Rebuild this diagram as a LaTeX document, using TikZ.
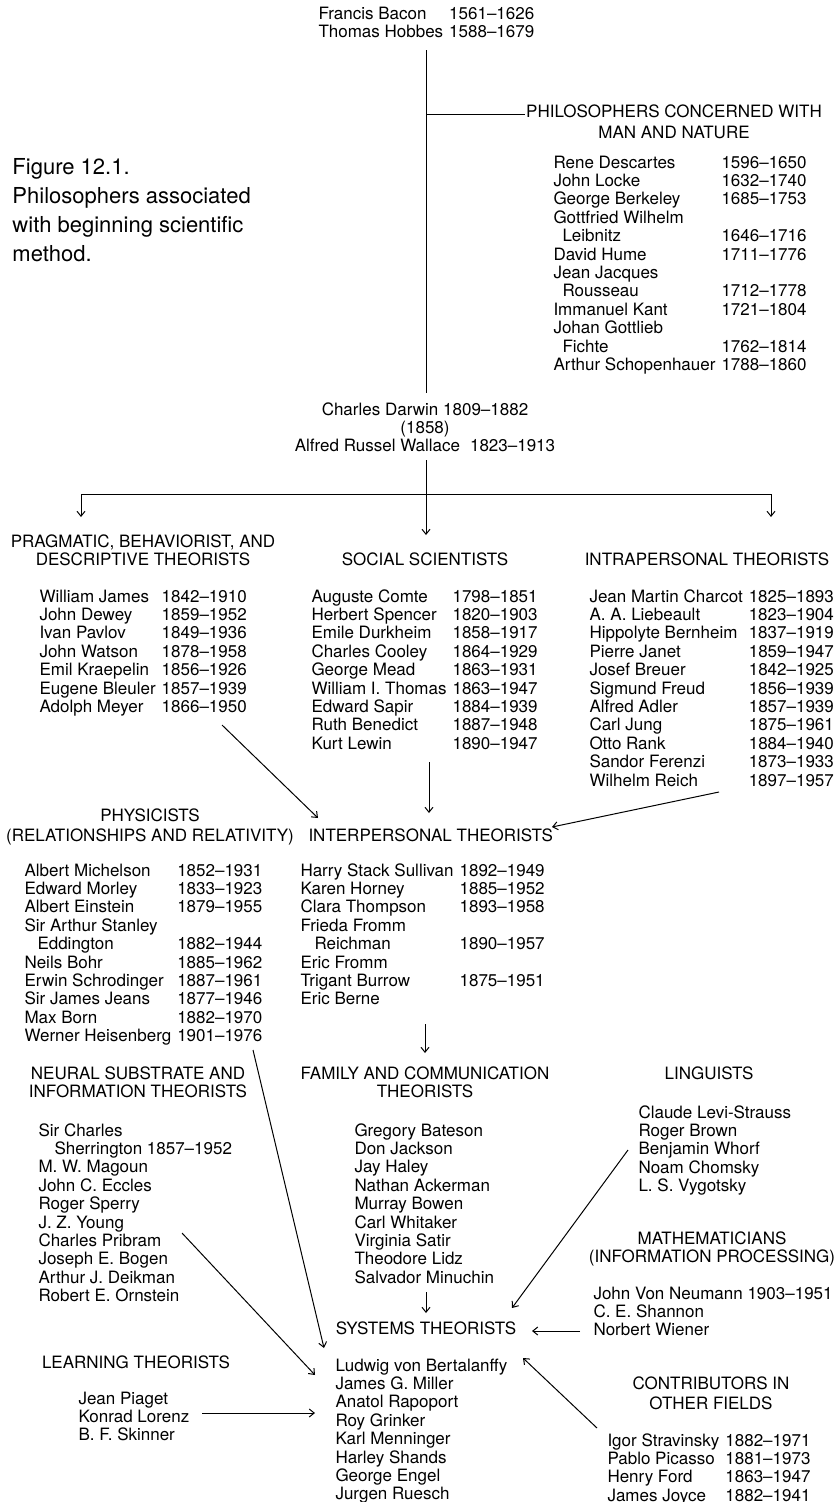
\documentclass[tikz,border=0pt]{standalone}
\usepackage{fontspec}
\setmainfont{TeX Gyre Heros}
\usetikzlibrary{arrows.meta}

\newcommand\figfont{\fontsize{17}{18.4}\selectfont}
\newcommand\capfont{\fontsize{22}{29}\selectfont}
\newcommand\headtext[1]{\begin{tabular}[t]{@{}c@{}}#1\end{tabular}}
\newcommand\namelist[1]{\begin{tabular}[t]{@{}l@{}}#1\end{tabular}}
\newcommand\datelist[1]{\begin{tabular}[t]{@{}l@{\hspace{6pt}}l@{}}#1\end{tabular}}

\begin{document}
\begin{tikzpicture}[x=1pt, y=-1pt, line width=1pt,
  every node/.style={inner sep=0pt, font=\figfont},
  head/.style={anchor=base},
  names/.style={anchor=base west},
  link/.style={-{Straight Barb[length=5pt,width=8pt]}}]
  \useasboundingbox (0,0) rectangle (840,1502);

  % top of the tree
  \node[names] (founders) at (318,19) {\datelist{Francis Bacon & 1561--1626\\ Thomas Hobbes & 1588--1679}};
  \node[names, font=\capfont] (caption) at (12,174) {\namelist{Figure 12.1.\\ Philosophers associated\\ with beginning scientific\\ method.}};
  \node[head] (philhead) at (674,117) {\headtext{PHILOSOPHERS CONCERNED WITH\\[3pt] MAN AND NATURE}};
  \node[names] (phil) at (553,168) {\datelist{Rene Descartes & 1596--1650\\ John Locke & 1632--1740\\
    George Berkeley & 1685--1753\\ Gottfried Wilhelm & \\ \hspace*{9pt}Leibnitz & 1646--1716\\
    David Hume & 1711--1776\\ Jean Jacques & \\ \hspace*{9pt}Rousseau & 1712--1778\\
    Immanuel Kant & 1721--1804\\ Johan Gottlieb & \\ \hspace*{9pt}Fichte & 1762--1814\\
    Arthur Schopenhauer & 1788--1860}};
  \node[head] (darwin) at (425,415) {\headtext{Charles Darwin 1809--1882\\ (1858)\\ Alfred Russel Wallace\hspace{10pt}1823--1913}};

  \coordinate (trunkA) at (426,50);
  \coordinate (trunkB) at (426,393);
  \coordinate (branch) at (426,114);
  \coordinate (branchE) at (525,114);
  \draw (trunkA) -- (trunkB);
  \draw (branch) -- (branchE);

  % three way split under Darwin
  \coordinate (splitA) at (426,460);
  \coordinate (splitB) at (426,535);
  \coordinate (barL) at (81,494);
  \coordinate (barR) at (771,494);
  \coordinate (tipL) at (81,517);
  \coordinate (tipR) at (771,517);
  \draw[link] (splitA) -- (splitB);
  \draw (barL) -- (barR);
  \draw[link] (barL) -- (tipL);
  \draw[link] (barR) -- (tipR);

  \node[head] (praghead) at (143,547) {\headtext{PRAGMATIC, BEHAVIORIST, AND\\ DESCRIPTIVE THEORISTS}};
  \node[head] (sochead) at (425,565) {SOCIAL SCIENTISTS};
  \node[head] (intrahead) at (707,565) {INTRAPERSONAL THEORISTS};
  \node[names] (prag) at (39,602) {\datelist{William James & 1842--1910\\ John Dewey & 1859--1952\\
    Ivan Pavlov & 1849--1936\\ John Watson & 1878--1958\\ Emil Kraepelin & 1856--1926\\
    Eugene Bleuler & 1857--1939\\ Adolph Meyer & 1866--1950}};
  \node[names] (social) at (311,602) {\datelist{Auguste Comte & 1798--1851\\ Herbert Spencer & 1820--1903\\
    Emile Durkheim & 1858--1917\\ Charles Cooley & 1864--1929\\ George Mead & 1863--1931\\
    William I. Thomas & 1863--1947\\ Edward Sapir & 1884--1939\\ Ruth Benedict & 1887--1948\\
    Kurt Lewin & 1890--1947}};
  \node[names] (intra) at (589,602) {\datelist{Jean Martin Charcot & 1825--1893\\ A. A. Liebeault & 1823--1904\\
    Hippolyte Bernheim & 1837--1919\\ Pierre Janet & 1859--1947\\ Josef Breuer & 1842--1925\\
    Sigmund Freud & 1856--1939\\ Alfred Adler & 1857--1939\\ Carl Jung & 1875--1961\\
    Otto Rank & 1884--1940\\ Sandor Ferenzi & 1873--1933\\ Wilhelm Reich & 1897--1957}};

  % into the interpersonal theorists
  \node[head] (physhead) at (150,821) {\headtext{PHYSICISTS\\[1.6pt] (RELATIONSHIPS AND RELATIVITY)}};
  \node[names] (interhead) at (308,841) {INTERPERSONAL THEORISTS};
  \coordinate (pragA) at (222,725);
  \coordinate (pragB) at (318,818);
  \coordinate (socA) at (429,762);
  \coordinate (socB) at (429,813);
  \coordinate (intraA) at (719,792);
  \coordinate (intraB) at (552,827);
  \draw[link] (pragA) -- (pragB);
  \draw[link] (socA) -- (socB);
  \draw[link] (intraA) -- (intraB);

  \node[names] (phys) at (24,876) {\datelist{Albert Michelson & 1852--1931\\ Edward Morley & 1833--1923\\
    Albert Einstein & 1879--1955\\ Sir Arthur Stanley & \\ \hspace*{13pt}Eddington & 1882--1944\\
    Neils Bohr & 1885--1962\\ Erwin Schrodinger & 1887--1961\\ Sir James Jeans & 1877--1946\\
    Max Born & 1882--1970\\ Werner Heisenberg & 1901--1976}};
  \node[names] (inter) at (300,876) {\datelist{Harry Stack Sullivan & 1892--1949\\ Karen Horney & 1885--1952\\
    Clara Thompson & 1893--1958\\ Frieda Fromm & \\ \hspace*{14pt}Reichman & 1890--1957\\
    Eric Fromm & \\ Trigant Burrow & 1875--1951\\ Eric Berne & }};

  \coordinate (interA) at (425,1024);
  \coordinate (interB) at (425,1053);
  \draw[link] (interA) -- (interB);

  % lower groups
  \node[head] (neuralhead) at (138,1079) {\headtext{NEURAL SUBSTRATE AND\\ INFORMATION THEORISTS}};
  \node[head] (famhead) at (425,1079) {\headtext{FAMILY AND COMMUNICATION\\ THEORISTS}};
  \node[head] (linghead) at (709,1079) {LINGUISTS};
  \node[names] (neural) at (38,1136) {\namelist{Sir Charles\\ \hspace*{16pt}Sherrington 1857--1952\\
    M. W. Magoun\\ John C. Eccles\\ Roger Sperry\\ J. Z. Young\\ Charles Pribram\\
    Joseph E. Bogen\\ Arthur J. Deikman\\ Robert E. Ornstein}};
  \node[names] (family) at (354,1136) {\namelist{Gregory Bateson\\ Don Jackson\\ Jay Haley\\
    Nathan Ackerman\\ Murray Bowen\\ Carl Whitaker\\ Virginia Satir\\ Theodore Lidz\\
    Salvador Minuchin}};
  \node[names] (ling) at (638,1118) {\namelist{Claude Levi-Strauss\\ Roger Brown\\ Benjamin Whorf\\
    Noam Chomsky\\ L. S. Vygotsky}};
  \node[head] (mathhead) at (712,1244) {\headtext{MATHEMATICIANS\\ (INFORMATION PROCESSING)}};
  \node[names] (maths) at (593,1299) {\namelist{John Von Neumann 1903--1951\\ C. E. Shannon\\ Norbert Wiener}};

  % systems theorists and what feeds them
  \node[head] (syshead) at (426,1334) {SYSTEMS THEORISTS};
  \node[head] (learnhead) at (136,1368) {LEARNING THEORISTS};
  \node[names] (learn) at (78,1404) {\namelist{Jean Piaget\\ Konrad Lorenz\\ B. F. Skinner}};
  \node[names] (systems) at (335,1371) {\namelist{Ludwig von Bertalanffy\\ James G. Miller\\
    Anatol Rapoport\\ Roy Grinker\\ Karl Menninger\\ Harley Shands\\ George Engel\\ Jurgen Ruesch}};
  \node[head] (contribhead) at (711,1389) {\headtext{CONTRIBUTORS IN\\[1.6pt] OTHER FIELDS}};
  \node[names] (contrib) at (607,1446) {\datelist{Igor Stravinsky & 1882--1971\\ Pablo Picasso & 1881--1973\\
    Henry Ford & 1863--1947\\ James Joyce & 1882--1941}};

  \coordinate (heisA) at (253,1050);
  \coordinate (heisB) at (324,1348);
  \coordinate (pribA) at (182,1233);
  \coordinate (pribB) at (315,1375);
  \coordinate (lingA) at (628,1150);
  \coordinate (lingB) at (512,1308);
  \coordinate (famA) at (426,1292);
  \coordinate (famB) at (426,1313);
  \coordinate (wienA) at (580,1331);
  \coordinate (wienB) at (532,1331);
  \coordinate (konA) at (202,1413);
  \coordinate (konB) at (315,1413);
  \coordinate (contA) at (597,1428);
  \coordinate (contB) at (523,1358);
  \draw[link] (heisA) -- (heisB);
  \draw[link] (pribA) -- (pribB);
  \draw[link] (lingA) -- (lingB);
  \draw[link] (famA) -- (famB);
  \draw[link] (wienA) -- (wienB);
  \draw[link] (konA) -- (konB);
  \draw[link] (contA) -- (contB);
\end{tikzpicture}
\end{document}
